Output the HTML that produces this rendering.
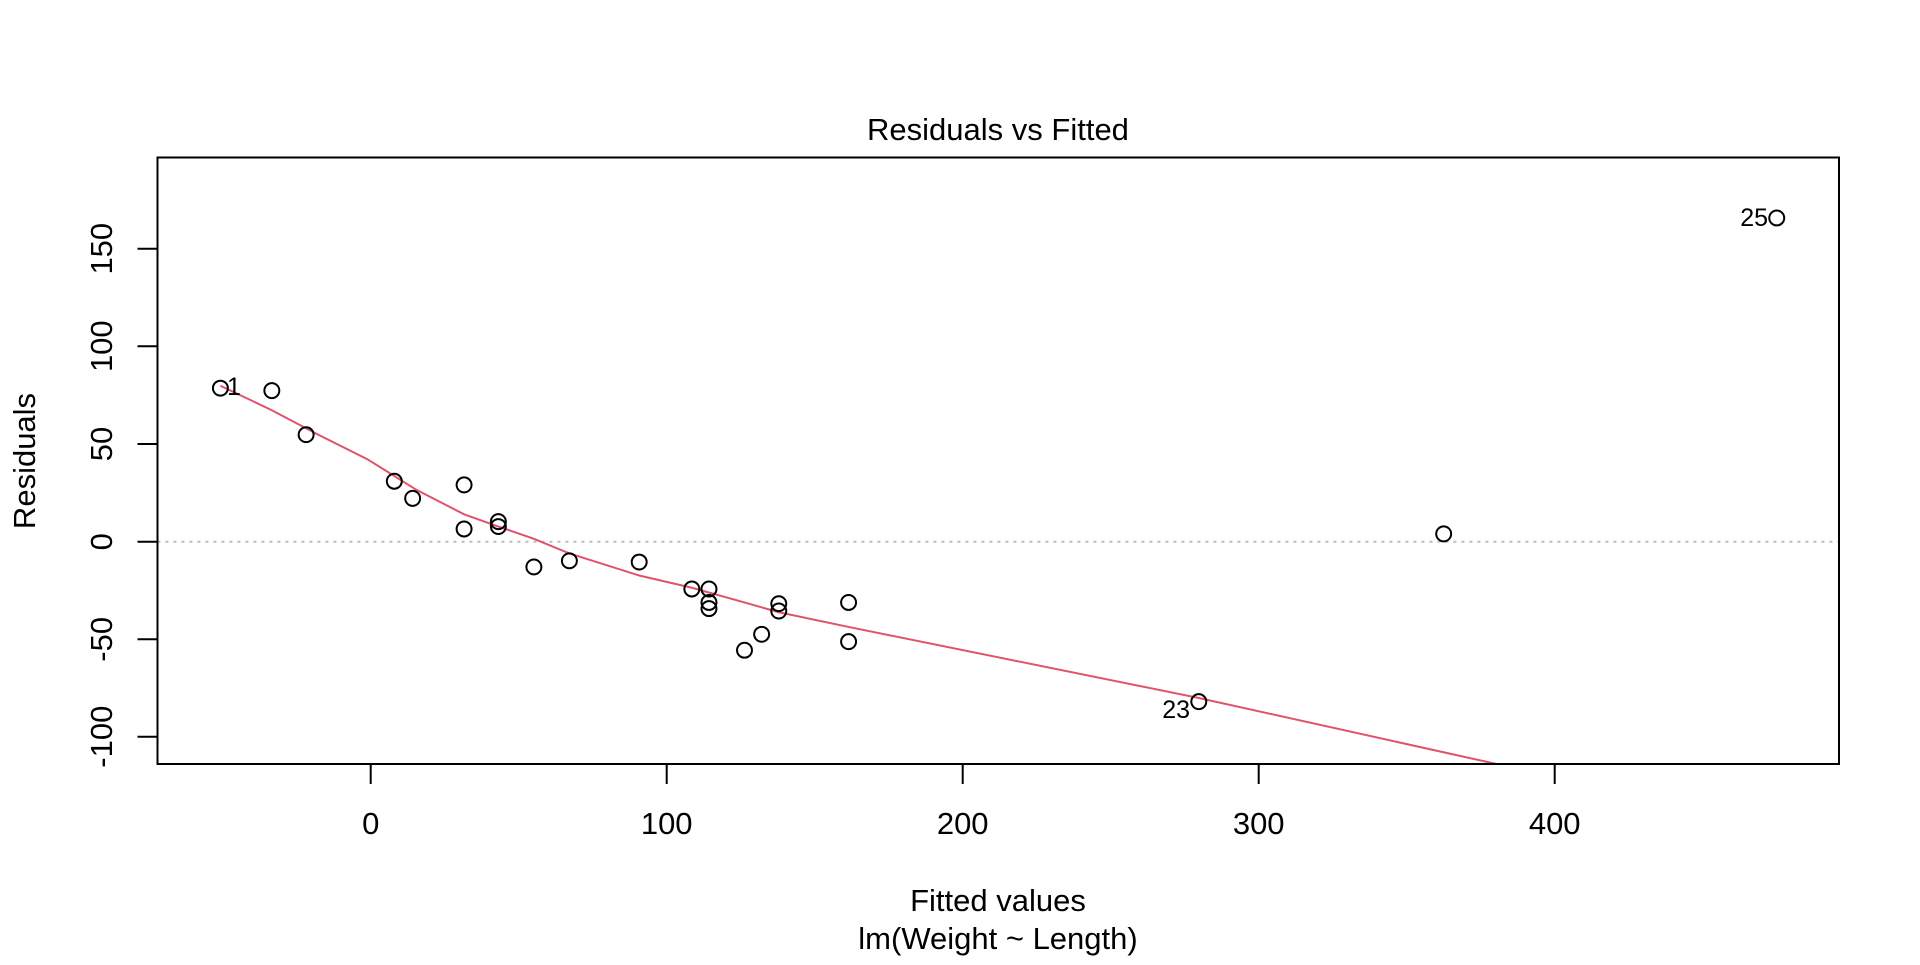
<!DOCTYPE html>
<html><head><meta charset="utf-8"><style>
html,body{margin:0;padding:0;background:#fff}
text{font-family:"Liberation Sans",Arial,sans-serif;fill:#000}
</style></head><body>
<svg width="1920" height="960" viewBox="0 0 1920 960" xmlns="http://www.w3.org/2000/svg">
<defs><clipPath id="c"><rect x="157.5" y="157.5" width="1681.5" height="606.5"/></clipPath></defs>
<line x1="157.5" y1="541.7" x2="1839" y2="541.7" stroke="#bebebe" stroke-width="2" stroke-dasharray="3,5"/>
<g clip-path="url(#c)">
<g transform="scale(1.2245)">
<polyline fill="none" stroke="#DF536B" stroke-width="2" vector-effect="non-scaling-stroke" points="180,315 222,335 260,355 300,375 340,400 379,420 407,430 436,440 465,452 522,470 565,480 608,492 636,500 693,512 979,570 1218,623 1240,628"/>
<g fill="none" stroke="#000" stroke-width="2">
<circle cx="180" cy="317" r="6.1" vector-effect="non-scaling-stroke"/>
<circle cx="222" cy="319" r="6.1" vector-effect="non-scaling-stroke"/>
<circle cx="250" cy="355" r="6.1" vector-effect="non-scaling-stroke"/>
<circle cx="322" cy="393" r="6.1" vector-effect="non-scaling-stroke"/>
<circle cx="337" cy="407" r="6.1" vector-effect="non-scaling-stroke"/>
<circle cx="379" cy="396" r="6.1" vector-effect="non-scaling-stroke"/>
<circle cx="379" cy="432" r="6.1" vector-effect="non-scaling-stroke"/>
<circle cx="407" cy="426" r="6.1" vector-effect="non-scaling-stroke"/>
<circle cx="407" cy="430" r="6.1" vector-effect="non-scaling-stroke"/>
<circle cx="436" cy="463" r="6.1" vector-effect="non-scaling-stroke"/>
<circle cx="465" cy="458" r="6.1" vector-effect="non-scaling-stroke"/>
<circle cx="522" cy="459" r="6.1" vector-effect="non-scaling-stroke"/>
<circle cx="565" cy="481" r="6.1" vector-effect="non-scaling-stroke"/>
<circle cx="579" cy="481" r="6.1" vector-effect="non-scaling-stroke"/>
<circle cx="579" cy="492" r="6.1" vector-effect="non-scaling-stroke"/>
<circle cx="579" cy="497" r="6.1" vector-effect="non-scaling-stroke"/>
<circle cx="608" cy="531" r="6.1" vector-effect="non-scaling-stroke"/>
<circle cx="622" cy="518" r="6.1" vector-effect="non-scaling-stroke"/>
<circle cx="636" cy="493" r="6.1" vector-effect="non-scaling-stroke"/>
<circle cx="636" cy="499" r="6.1" vector-effect="non-scaling-stroke"/>
<circle cx="693" cy="492" r="6.1" vector-effect="non-scaling-stroke"/>
<circle cx="693" cy="524" r="6.1" vector-effect="non-scaling-stroke"/>
<circle cx="979" cy="573" r="6.1" vector-effect="non-scaling-stroke"/>
<circle cx="1179" cy="436" r="6.1" vector-effect="non-scaling-stroke"/>
<circle cx="1451" cy="178" r="6.1" vector-effect="non-scaling-stroke"/>
</g>
</g>
</g>
<rect x="157.5" y="157.5" width="1681.5" height="606.5" fill="none" stroke="#000" stroke-width="2"/>
<text x="227" y="395" font-size="25">1</text>
<text x="1190" y="718" font-size="25" text-anchor="end">23</text>
<text x="1768" y="226" font-size="25" text-anchor="end">25</text>
<g stroke="#000" stroke-width="2">
<line x1="137.5" y1="248.7" x2="157.5" y2="248.7"/>
<line x1="137.5" y1="346.2" x2="157.5" y2="346.2"/>
<line x1="137.5" y1="444" x2="157.5" y2="444"/>
<line x1="137.5" y1="541.7" x2="157.5" y2="541.7"/>
<line x1="137.5" y1="639.3" x2="157.5" y2="639.3"/>
<line x1="137.5" y1="736.7" x2="157.5" y2="736.7"/>
<line x1="370.7" y1="764" x2="370.7" y2="784"/>
<line x1="666.7" y1="764" x2="666.7" y2="784"/>
<line x1="962.7" y1="764" x2="962.7" y2="784"/>
<line x1="1258.7" y1="764" x2="1258.7" y2="784"/>
<line x1="1554.7" y1="764" x2="1554.7" y2="784"/>
</g>
<g font-size="31" text-anchor="middle">
<text transform="translate(112,248.7) rotate(-90)">150</text>
<text transform="translate(112,346.2) rotate(-90)">100</text>
<text transform="translate(112,444) rotate(-90)">50</text>
<text transform="translate(112,541.7) rotate(-90)">0</text>
<text transform="translate(112,639.3) rotate(-90)">-50</text>
<text transform="translate(112,736.7) rotate(-90)">-100</text>
<text x="370.7" y="834">0</text>
<text x="666.7" y="834">100</text>
<text x="962.7" y="834">200</text>
<text x="1258.7" y="834">300</text>
<text x="1554.7" y="834">400</text>
<text x="998" y="140">Residuals vs Fitted</text>
<text x="998" y="911">Fitted values</text>
<text x="998" y="949">lm(Weight ~ Length)</text>
<text transform="translate(35,461) rotate(-90)">Residuals</text>
</g>
</svg>
</body></html>
